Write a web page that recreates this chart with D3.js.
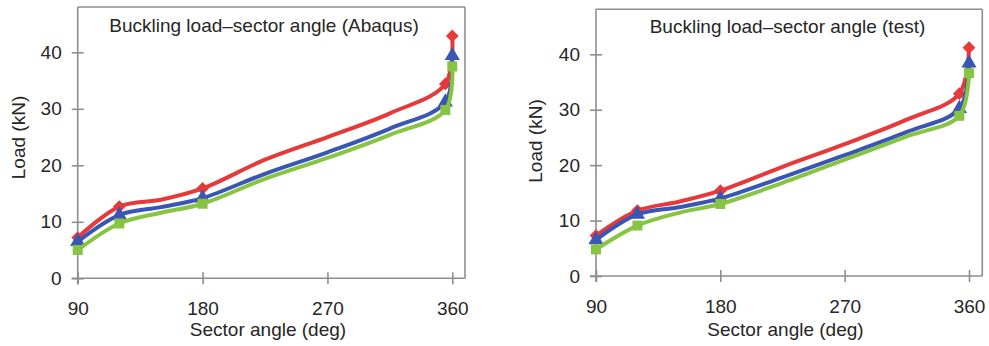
<!DOCTYPE html>
<html><head><meta charset="utf-8">
<script src="https://cdn.jsdelivr.net/npm/d3@7"></script>
<style>body{margin:0;background:#fff} svg{display:block;font-family:"Liberation Sans",Arial,sans-serif}</style>
</head><body>
<svg id="c" width="989" height="346"></svg>
<script>
const anglesAbaqus  = [90, 120, 150, 180, 225, 270, 315, 355, 360];
const markersAbaqus = [90, 120, 180, 355, 360];
const abaqusRed   = [7.2, 12.7, 13.9, 15.9, 21.0, 25.0, 29.2, 34.4, 42.9];
const abaqusBlue  = [6.5, 11.2, 12.6, 14.2, 18.5, 22.3, 26.5, 31.2, 39.4];
const abaqusGreen = [5.0, 9.7, 11.6, 13.2, 17.6, 21.3, 25.4, 29.8, 37.5];

const anglesTest  = [90, 120, 150, 180, 225, 270, 315, 353, 360];
const markersTest = [90, 120, 180, 353, 360];
const testRed   = [7.3, 11.8, 13.4, 15.4, 19.7, 23.8, 28.2, 32.9, 41.2];
const testBlue  = [6.5, 11.1, 12.4, 14.0, 17.8, 21.8, 26.0, 30.2, 38.4];
const testGreen = [4.8, 9.1, 11.4, 13.0, 16.8, 21.0, 25.2, 28.9, 36.6];

const xTicks = [90, 180, 270, 360];
const yTicks = [0, 10, 20, 30, 40];
const titles = ["Buckling load\u2013sector angle (Abaqus)", "Buckling load\u2013sector angle (test)"];
const xLabel = "Sector angle (deg)";
const yLabel = "Load (kN)";

const colors = ["#e5393a", "#3a56b4", "#86c442"];
const textColor = "#262626";
const frameColor = "#8e8e8e";

const panels = [
  {title: titles[0], angles: anglesAbaqus, markers: markersAbaqus, series: [abaqusRed, abaqusBlue, abaqusGreen],
   xr: [77.7, 452.3], yr: [278.3, 52.3], top: 7, right: 465, titleX: 264, titleY: 32,
   yLabX: 18, yLabY: 137.5, xLabY: 336, xTickY: 315},
  {title: titles[1], angles: anglesTest, markers: markersTest, series: [testRed, testBlue, testGreen],
   xr: [596, 969], yr: [276, 54.3], top: 9.3, right: 982.3, titleX: 787.5, titleY: 33,
   yLabX: 535, yLabY: 141, xLabY: 336, xTickY: 313}
];

const svg = d3.select("#c");
const fs = 19;

panels.forEach(p => {
  const x = d3.scaleLinear().domain([90, 360]).range(p.xr);
  const y = d3.scaleLinear().domain([0, 40]).range(p.yr);
  const g = svg.append("g");
  const x0 = x(90), yb = y(0);

  // frame
  const fr = g.append("g").attr("stroke", frameColor).attr("stroke-width", 1.6).attr("fill", "none");
  fr.append("line").attr("x1", x0).attr("x2", x0).attr("y1", p.top).attr("y2", yb + 6);
  fr.append("line").attr("x1", x0).attr("x2", p.right).attr("y1", p.top).attr("y2", p.top);
  fr.append("line").attr("x1", p.right).attr("x2", p.right).attr("y1", p.top).attr("y2", yb);
  fr.append("line").attr("x1", x0 - 6).attr("x2", p.right).attr("y1", yb).attr("y2", yb);

  // y axis
  const ya = g.append("g").attr("transform", `translate(${x0},0)`)
    .call(d3.axisLeft(y).tickValues(yTicks).tickSize(6).tickPadding(10).tickFormat(d3.format("d")));
  ya.select(".domain").remove();
  ya.selectAll(".tick line").attr("x1", 6).attr("x2", -6).attr("stroke", frameColor).attr("stroke-width", 1.6);
  ya.selectAll(".tick text").attr("font-size", fs).attr("fill", textColor).attr("font-family", null);

  // x axis
  const xa = g.append("g").attr("transform", `translate(0,${yb})`)
    .call(d3.axisBottom(x).tickValues(xTicks).tickSize(6).tickFormat(d3.format("d")));
  xa.select(".domain").remove();
  xa.selectAll(".tick line").attr("y1", -6).attr("y2", 6).attr("stroke", frameColor).attr("stroke-width", 1.6);
  xa.selectAll(".tick text").attr("font-size", fs).attr("fill", textColor).attr("font-family", null)
    .attr("dy", null).attr("y", p.xTickY - yb);

  // labels
  g.append("text").attr("x", (p.xr[0] + p.xr[1]) / 2 + 3).attr("y", p.xLabY).attr("text-anchor", "middle")
    .attr("font-size", fs).attr("fill", textColor).text(xLabel);
  g.append("text").attr("transform", `translate(${p.yLabX},${p.yLabY}) rotate(-90)`).attr("text-anchor", "middle")
    .attr("dy", "0.35em").attr("font-size", fs).attr("fill", textColor).text(yLabel);
  g.append("text").attr("x", p.titleX).attr("y", p.titleY).attr("text-anchor", "middle")
    .attr("font-size", fs).attr("fill", textColor).text(p.title);

  // series
  const line = d3.line().x(d => x(d[0])).y(d => y(d[1])).curve(d3.curveCatmullRom.alpha(0.5));
  const symbols = [
    d3.symbol().type(d3.symbolSquare).size(82),
    d3.symbol().type(d3.symbolTriangle).size(100),
    d3.symbol().type(d3.symbolSquare).size(100)
  ];
  const rot = [45, 0, 0];
  p.series.forEach((vals, i) => {
    const pts = p.angles.map((a, j) => [a, vals[j]]);
    const mk = pts.filter(d => p.markers.includes(d[0]));
    g.append("path").datum(pts).attr("d", line).attr("fill", "none").attr("stroke", colors[i])
      .attr("stroke-width", 4).attr("stroke-linejoin", "round");
    g.selectAll(null).data(mk).join("path")
      .attr("transform", d => `translate(${x(d[0])},${y(d[1])}) rotate(${rot[i]})`)
      .attr("d", symbols[i]).attr("fill", colors[i]);
  });
});
</script>
</body></html>
